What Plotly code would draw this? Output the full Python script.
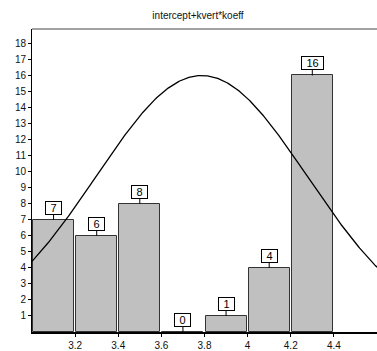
import numpy as np
import plotly.graph_objects as go

# Histogram bins (lower edges, width) and counts
bin_starts = [3.0, 3.2, 3.4, 3.6, 3.8, 4.0, 4.2]
bin_width = 0.2
counts = [7, 6, 8, 0, 1, 4, 16]

# Fitted normal curve parameters
curve_mean = 3.787
curve_sd = 0.49
curve_peak = 16

x_ticks = [3.2, 3.4, 3.6, 3.8, 4.0, 4.2, 4.4]
x_tick_labels = ["3.2", "3.4", "3.6", "3.8", "4", "4.2", "4.4"]
y_ticks = list(range(1, 19))

title_text = "intercept+kvert*koeff"

centers = [s + bin_width / 2 for s in bin_starts]
font_family = "Liberation Sans, Arial, sans-serif"

fig = go.Figure()
fig.add_trace(go.Bar(
    x=centers, y=counts, width=bin_width * 0.95,
    marker=dict(color="#c0c0c0", line=dict(color="#333333", width=1)),
    hoverinfo="skip",
))

cx = np.linspace(3.0, 4.6, 300)
cy = curve_peak * np.exp(-0.5 * ((cx - curve_mean) / curve_sd) ** 2)
fig.add_trace(go.Scatter(x=cx, y=cy, mode="lines",
                         line=dict(color="black", width=1.3), hoverinfo="skip"))

# Value boxes above each bar
for xc, v in zip(centers, counts):
    label = str(v)
    fig.add_annotation(
        x=xc, y=v, text=label, showarrow=True, arrowhead=0, arrowwidth=1,
        arrowcolor="black", ax=0, ay=-12, standoff=0,
        width=13 if len(label) == 1 else 19, height=10, align="center",
        bgcolor="white", bordercolor="black", borderwidth=1, borderpad=1,
        font=dict(family=font_family, size=11, color="black"),
    )

# Top frame line
fig.add_shape(type="line", xref="paper", yref="paper", x0=0, x1=1, y0=1, y1=1,
              line=dict(color="#444444", width=1))

fig.update_layout(
    width=377, height=351,
    margin=dict(l=32, r=0, t=29, b=16),
    paper_bgcolor="white", plot_bgcolor="white",
    showlegend=False,
    bargap=0,
    title=dict(text=title_text, x=198 / 377, xanchor="center",
               y=1 - 15 / 351, yanchor="middle",
               font=dict(family=font_family, size=10, color="#111111")),
    font=dict(family=font_family, size=10, color="#111111"),
    xaxis=dict(range=[3.0, 4.6], tickvals=x_ticks, ticktext=x_tick_labels,
               showgrid=False, zeroline=False, showline=True,
               linecolor="black", linewidth=2, ticks="outside", ticklen=3,
               tickcolor="black", tickfont=dict(size=10)),
    yaxis=dict(range=[0, 18.9], tickvals=y_ticks,
               showgrid=False, zeroline=False, showline=True,
               linecolor="black", linewidth=1, ticks="outside", ticklen=3,
               tickcolor="black", tickfont=dict(size=10)),
)

fig.write_html("out.html")
